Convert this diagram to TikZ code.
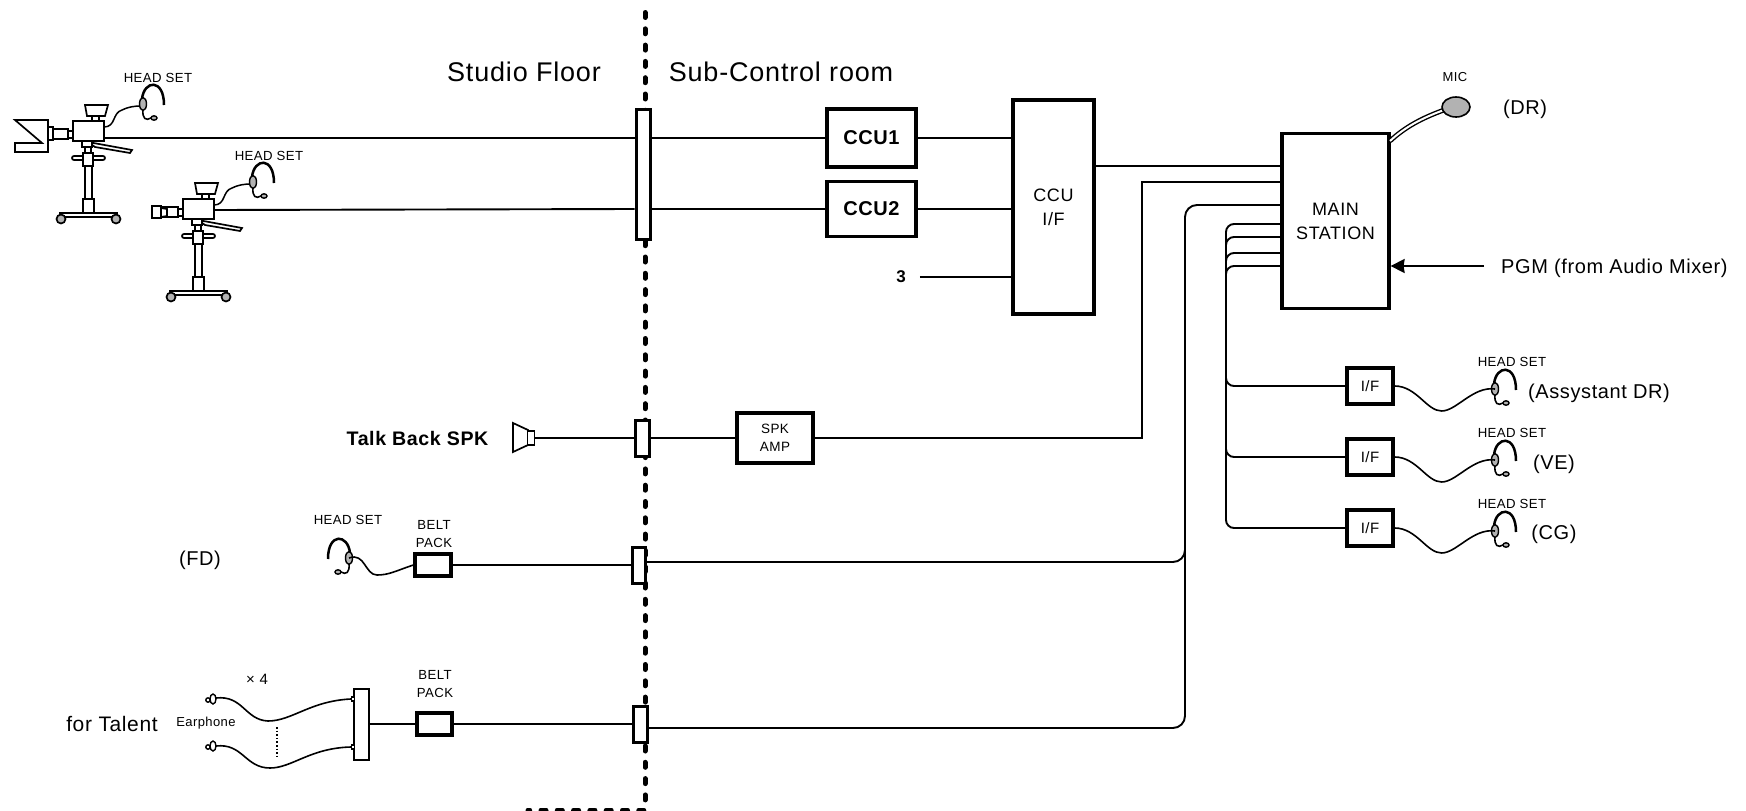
\documentclass[tikz,border=0pt]{standalone}
\usepackage{fontspec}
\setmainfont[LetterSpace=3]{Liberation Sans}
\usetikzlibrary{arrows.meta}

\tikzset{
  wire/.style={line width=1.9pt},
  part/.style={line width=1.7pt, fill=white},
  unitbox/.style={draw, line width=3.2pt, fill=white, inner sep=0pt, align=center},
  patchbox/.style={draw, line width=3pt, fill=white, inner sep=0pt},
  tinytxt/.style={inner sep=0pt, align=center, font=\fontsize{13.2}{18}\selectfont},
  bigtxt/.style={inner sep=0pt, font=\fontsize{20}{24}\selectfont},
  roomtxt/.style={inner sep=0pt, font=\fontsize{27}{30}\selectfont}
}

\newcommand{\headgear}[3][]{%
  \begin{scope}[shift={(#3)},#1]
    \coordinate (#2) at (0,0);
    \draw[line width=2.5pt] (-1,-5) .. controls (1,-24) and (21,-26) .. (21,1);
    \draw[line width=1.6pt] (0,5) .. controls (-1,15) and (3,17) .. (8,14);
    \draw[line width=1.4pt, fill=gray!60] (0,0) ellipse [x radius=3.5, y radius=6.5];
    \draw[line width=1.4pt, fill=gray!60] (11,14) ellipse [x radius=3, y radius=2.2];
  \end{scope}}

\newcommand{\studiocam}[2]{%
  \begin{scope}[shift={(#2)}]
    \draw[part] (92,105) rectangle (99,121);
    \draw[part] (85,105) -- (108,105) -- (105,116) -- (87,116) -- cycle;
    \draw[part] (53,129) rectangle (68,139);
    \draw[part] (68,131) rectangle (73,138);
    \draw[part] (85,166) rectangle (92,199);
    \draw[part] (85,147) rectangle (91,156);
    \draw[part] (88,142) -- (132,150) -- (130,153) -- (95,147) -- cycle;
    \draw[part] (82,141) rectangle (92,147);
    \draw[part, rounded corners=2] (72,156) rectangle (105,160);
    \draw[part] (83,153) rectangle (93,166);
    \draw[part] (83,199) rectangle (94,213);
    \draw[part] (60,213) rectangle (117,217);
    \draw[part, fill=gray!60] (61,219) circle (4.5);
    \draw[part, fill=gray!60] (116,219) circle (4.5);
    \node[draw, line width=1.7pt, fill=white, minimum width=31, minimum height=20, inner sep=0pt] (#1) at (88.5,131) {};
    \draw[line width=1.5pt] (104,127) .. controls (116,127) and (112,113) .. (122,110) .. controls (128,107) and (134,106) .. (141,106);
  \end{scope}}

\begin{document}
\begin{tikzpicture}[x=1pt,y=-1pt]
  \useasboundingbox (0,0) rectangle (1746,811);

  % border of the two rooms
  \draw[line width=5pt, line cap=round, dash pattern=on 5pt off 11.3pt] (645,12.5) -- (645,810) -- (528,810);

  \node[roomtxt] (floor) at (524,72) {Studio Floor};
  \node[roomtxt] (subroom) at (781,72) {Sub-Control room};

  % cameras
  \studiocam{cama}{0,0}
  \draw[part] (48,127) rectangle (53,140);
  \draw[part] (15,120) -- (48,120) -- (48,152) -- (15,152) -- (15,143) -- (42,143) -- cycle;
  \headgear{hsa}{143,104}
  \node[tinytxt] (hsalabel) at (158,78) {HEAD SET};
  \studiocam{camb}{110,78}
  \draw[part] (152,206) rectangle (161,218);
  \draw[part] (161,208) -- (167,209) -- (167,216) -- (161,217) -- cycle;
  \headgear{hsb}{253,182}
  \node[tinytxt] (hsblabel) at (269,156) {HEAD SET};

  \node[patchbox, minimum width=14, minimum height=130] (patcha) at (643,174) {};
  \node[patchbox, minimum width=14, minimum height=36] (patchb) at (642,438) {};
  \node[patchbox, minimum width=13, minimum height=36] (patchc) at (638.5,565) {};
  \node[patchbox, minimum width=14, minimum height=36] (patchd) at (640,724) {};

  \node[unitbox, minimum width=89, minimum height=58, font=\fontsize{20}{24}\selectfont\bfseries] (ccua) at (871.5,138) {CCU1};
  \node[unitbox, minimum width=89, minimum height=55, font=\fontsize{20}{24}\selectfont\bfseries] (ccub) at (871.5,209) {CCU2};
  \node[unitbox, minimum width=81, minimum height=214, font=\fontsize{18}{24}\selectfont] (ccuif) at (1053.5,207) {CCU\\I/F};
  \node[unitbox, minimum width=107, minimum height=175, font=\fontsize{18}{24}\selectfont] (mainst) at (1335.5,221) {MAIN\\STATION};
  \node[inner sep=0pt, font=\fontsize{17}{20}\selectfont\bfseries] (third) at (901,277) {3};

  \draw[wire] (cama.east |- 0,138) -- (patcha.west |- 0,138);
  \draw[wire] (patcha.east |- 0,138) -- (ccua.west);
  \draw[wire] (ccua.east) -- (ccuif.west |- ccua.east);
  \draw[wire] (camb.east |- 0,210) -- (patcha.west |- 0,209);
  \draw[wire] (patcha.east |- ccub.west) -- (ccub.west);
  \draw[wire] (ccub.east) -- (ccuif.west |- ccub.east);
  \draw[wire] (third.east) ++(14,0) -- (ccuif.west |- third.east);
  \draw[wire] (ccuif.east |- 0,166) -- (mainst.west |- 0,166);

  % mic and program feed
  \draw[line width=1.4pt, double=white, double distance=2pt] (1390,141) .. controls (1405,127) and (1422,118) .. (1444,110);
  \draw[line width=1.6pt, fill=gray!60] (1456,107) ellipse [x radius=14, y radius=10];
  \node[tinytxt, font=\fontsize{13}{16}\selectfont] (miclabel) at (1455,77) {MIC};
  \node[bigtxt] (drlabel) at (1525,109) {(DR)};
  \node[bigtxt, anchor=west] (pgmlabel) at (1501,268) {PGM (from Audio Mixer)};
  \coordinate (pgmend) at (1484,266);
  \draw[wire, -{Stealth[length=14pt,width=14pt,inset=1pt]}] (pgmend) -- (mainst.east |- pgmend);

  % talk back
  \node[inner sep=0pt, font=\fontsize{19.6}{24}\selectfont\bfseries] (spklabel) at (417.5,438) {Talk Back SPK};
  \draw[part] (513,423) -- (528,430) -- (528,445) -- (513,452) -- cycle;
  \node[draw, line width=1.7pt, fill=white, minimum width=7, minimum height=14, inner sep=0pt] (spk) at (531,438) {};
  \node[unitbox, minimum width=76, minimum height=50, font=\fontsize{13.5}{18}\selectfont] (amp) at (775,438) {SPK\\AMP};
  \draw[wire] (spk.east) -- (patchb.west);
  \draw[wire] (patchb.east) -- (amp.west);
  \draw[wire] (amp.east) -| (1142,182) -- (mainst.west |- 0,182);

  % floor director
  \node[bigtxt] (fdlabel) at (200,560) {(FD)};
  \headgear[xscale=-1]{hsc}{349,558}
  \node[tinytxt] (hsclabel) at (348,520) {HEAD SET};
  \node[unitbox, minimum width=36, minimum height=22] (packa) at (433,565) {};
  \node[tinytxt] (packalabel) at (434,534) {BELT\\PACK};
  \draw[line width=1.6pt] (hsc) .. controls +(16,-6) and +(-12,0) .. (377,575) .. controls +(12,0) and +(-18,6) .. (packa.west);
  \draw[wire] (packa.east) -- (patchc.west);
  \draw[wire, rounded corners=12] (patchc.east |- 0,562) -- (1185,562) -- (1185,532);

  % talent
  \node[bigtxt, font=\fontsize{21}{24}\selectfont] (talentlabel) at (112,723.5) {for Talent};
  \node[tinytxt, font=\fontsize{13}{16}\selectfont] (earlabel) at (206,723) {Earphone};
  \node[tinytxt, font=\fontsize{15}{16}\selectfont] (timeslabel) at (257,679) {× 4};
  \node[patchbox, line width=2pt, minimum width=15, minimum height=71] (hub) at (361.5,724.5) {};
  \node[draw, line width=1.3pt, fill=white, minimum width=3, minimum height=4, inner sep=0pt] (hubup) at (353,699) {};
  \node[draw, line width=1.3pt, fill=white, minimum width=3, minimum height=4, inner sep=0pt] (hubdn) at (353,747) {};
  \draw[line width=1.4pt, fill=white] (208,700) circle (2.2);
  \draw[line width=1.4pt, fill=white] (213,699) ellipse [x radius=3, y radius=5];
  \draw[line width=1.4pt, fill=white] (208,747) circle (2.2);
  \draw[line width=1.4pt, fill=white] (213,746) ellipse [x radius=3, y radius=5];
  \draw[line width=1.6pt] (216,698) .. controls (243,695) and (245,720) .. (268,721) .. controls (292,721) and (310,701) .. (hubup.west);
  \draw[line width=1.6pt] (216,746) .. controls (243,743) and (245,768) .. (270,768) .. controls (292,768) and (310,748) .. (hubdn.west);
  \draw[line width=1.6pt, dotted] (277,727) -- (277,757);
  \node[unitbox, minimum width=35, minimum height=22] (packb) at (434.5,724) {};
  \node[tinytxt] (packblabel) at (435,684) {BELT\\PACK};
  \draw[wire] (hub.east |- packb.west) -- (packb.west);
  \draw[wire] (packb.east) -- (patchd.west);
  \draw[wire, rounded corners=12] (patchd.east |- 0,728) -- (1185,728) -- (1185,205) -- (mainst.west |- 0,205);

  % operators
  \node[unitbox, minimum width=46, minimum height=36, font=\fontsize{15}{18}\selectfont] (ifa) at (1370,386) {I/F};
  \node[unitbox, minimum width=46, minimum height=36, font=\fontsize{15}{18}\selectfont] (ifb) at (1370,457) {I/F};
  \node[unitbox, minimum width=46, minimum height=36, font=\fontsize{15}{18}\selectfont] (ifc) at (1370,528) {I/F};
  \draw[wire, rounded corners=8] (mainst.west |- 0,224) -- (1226,224) -- (1226,386) -- (ifa.west);
  \draw[wire, rounded corners=8] (mainst.west |- 0,237) -- (1226,237) -- (1226,457) -- (ifb.west);
  \draw[wire, rounded corners=8] (mainst.west |- 0,253) -- (1226,253) -- (1226,528) -- (ifc.west);
  \draw[wire, rounded corners=8] (mainst.west |- 0,266) -- (1226,266) -- (1226,300);
  \headgear{hsd}{1495,389}
  \headgear{hse}{1495,460}
  \headgear{hsf}{1495,531}
  \draw[line width=1.6pt] (ifa.east) .. controls +(22,0) and +(-15,0) .. ++(47,25) .. controls +(15,0) and +(-22,-3) .. (hsd);
  \draw[line width=1.6pt] (ifb.east) .. controls +(22,0) and +(-15,0) .. ++(47,25) .. controls +(15,0) and +(-22,-3) .. (hse);
  \draw[line width=1.6pt] (ifc.east) .. controls +(22,0) and +(-15,0) .. ++(47,25) .. controls +(15,0) and +(-22,-3) .. (hsf);
  \node[tinytxt] (hsdlabel) at (1512,362) {HEAD SET};
  \node[tinytxt] (hselabel) at (1512,433) {HEAD SET};
  \node[tinytxt] (hsflabel) at (1512,504) {HEAD SET};
  \node[bigtxt, anchor=west] (adlabel) at (1528,393) {(Assystant DR)};
  \node[bigtxt] (velabel) at (1554,464) {(VE)};
  \node[bigtxt] (cglabel) at (1554,534) {(CG)};
\end{tikzpicture}
\end{document}
